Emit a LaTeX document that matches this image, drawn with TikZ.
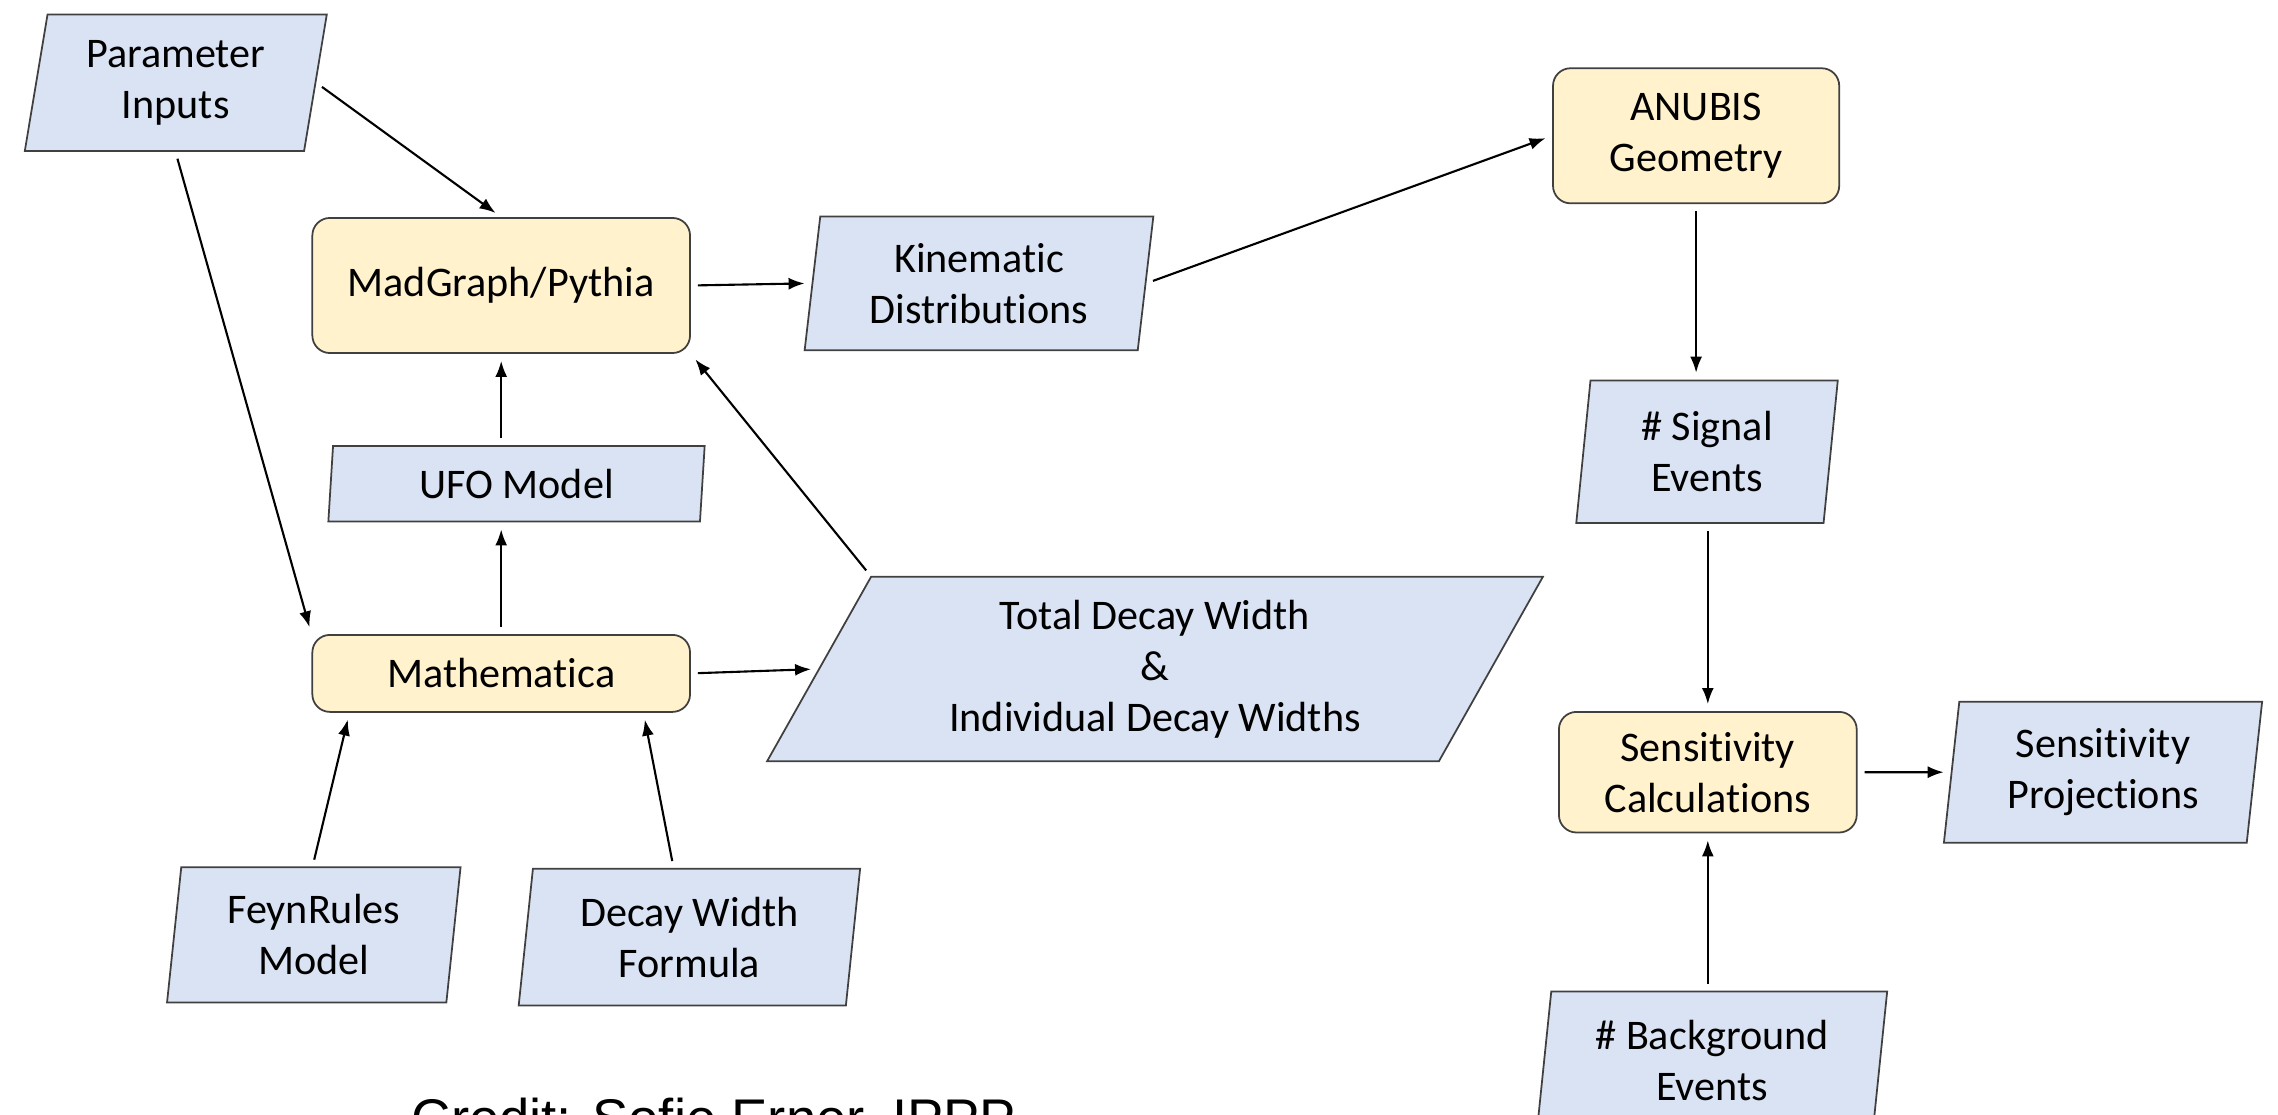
\documentclass[tikz,border=0pt]{standalone}
\usepackage{fontspec}
\setmainfont{Carlito}[RawFeature={-liga;-clig}]
\newfontfamily\creditfont{Liberation Sans}
\usetikzlibrary{shapes.geometric, arrows.meta, positioning, calc}
\definecolor{datablue}{HTML}{DAE3F3}
\definecolor{toolgold}{HTML}{FFF2CC}
\definecolor{edgegrey}{HTML}{404040}

\begin{document}
\begin{tikzpicture}[
    >={Latex[length=1.6mm,width=1.2mm]},
    % --- node styles ---
    tool/.style={
        rectangle, rounded corners=5pt, draw=edgegrey, line width=0.5pt,
        fill=toolgold, align=center, inner sep=0pt,
        font=\fontsize{12}{14.5}\selectfont
    },
    data/.style={
        trapezium, trapezium left angle=80, trapezium right angle=100,
        trapezium stretches body, draw=edgegrey, line width=0.5pt,
        fill=datablue, align=center, inner sep=0pt,
        font=\fontsize{12}{14.5}\selectfont
    },
    arrow/.style={->, line width=0.6pt, shorten >=0.7mm, shorten <=0.7mm},
]
\useasboundingbox (0,0) rectangle (22.78,-11.15);

% ===== INPUTS AND GENERATORS =====
\node[data, minimum width=3.02cm, minimum height=1.366cm,
    trapezium left angle=75, trapezium right angle=105] (param) at (1.758,-0.828) {Parameter\\Inputs};
\node[tool, minimum width=3.777cm, minimum height=1.351cm] (mad) at (5.012,-2.855) {MadGraph/Pythia};
\node[data, minimum width=3.487cm, minimum height=1.337cm,
    trapezium left angle=79, trapezium right angle=101] (kin) at (9.79,-2.833) {Kinematic\\Distributions};
\node[data, minimum width=3.763cm, minimum height=0.755cm,
    trapezium left angle=81, trapezium right angle=99] (ufo) at (5.165,-4.838) {UFO Model};
\node[tool, minimum width=3.777cm, minimum height=0.77cm] (math) at (5.012,-6.734) {Mathematica};
\node[data, minimum width=7.758cm, minimum height=1.845cm,
    trapezium left angle=53, trapezium right angle=127] (width) at (11.55,-6.69)
    {Total Decay Width\\\&\\Individual Decay Widths};
\node[data, minimum width=2.935cm, minimum height=1.351cm] (feyn) at (3.138,-9.349) {FeynRules\\Model};
\node[data, minimum width=3.414cm, minimum height=1.366cm] (formula) at (6.894,-9.371) {Decay Width\\Formula};

% ===== DETECTOR AND SENSITIVITY =====
\node[tool, minimum width=2.862cm, minimum height=1.351cm] (anubis) at (16.961,-1.358) {ANUBIS\\Geometry};
\node[data, minimum width=2.615cm, minimum height=1.424cm] (signal) at (17.07,-4.518) {\# Signal\\Events};
\node[tool, minimum width=2.978cm, minimum height=1.206cm] (sensecalc) at (17.078,-7.722) {Sensitivity\\Calculations};
\node[data, minimum width=3.182cm, minimum height=1.409cm] (senseproj) at (21.03,-7.722) {Sensitivity\\Projections};
\node[data, minimum width=3.501cm, minimum height=1.38cm] (bkg) at (17.121,-10.605) {\# Background\\Events};

\node[anchor=base west, inner sep=0pt, font=\creditfont\fontsize{15.5}{18}\selectfont] (credit)
    at (4.11,-11.37) {Credit: Sofie Erner, IPPP};

% ===== CONNECTORS =====
\draw[arrow] (param.east) -- (mad.north);
\draw[arrow] ($(param.bottom left corner)!0.54!(param.bottom right corner)$) -- (math.north west);
\draw[arrow] (mad.east) -- (kin.west);
\draw[arrow] (kin.east) -- (anubis.west);
\draw[arrow] (mad.south |- ufo.north) -- (mad.south);
\draw[arrow] (math.north) -- (math.north |- ufo.south);
\draw[arrow] (math.east) -- (width.west);
\draw[arrow] (width.top left corner) -- (mad.south east);
\draw[arrow] ($(feyn.top left corner)!0.47!(feyn.top right corner)$) -- ($(math.south west)!0.1!(math.south east)$);
\draw[arrow] ($(formula.top left corner)!0.43!(formula.top right corner)$) -- ($(math.south west)!0.875!(math.south east)$);

\draw[arrow] (anubis.south) -- (anubis.south |- signal.north);
\draw[arrow] (sensecalc.north |- signal.south) -- (sensecalc.north);
\draw[arrow] (sensecalc.east) -- (senseproj.west);
\draw[arrow] (sensecalc.south |- bkg.north) -- (sensecalc.south);

\end{tikzpicture}
\end{document}
